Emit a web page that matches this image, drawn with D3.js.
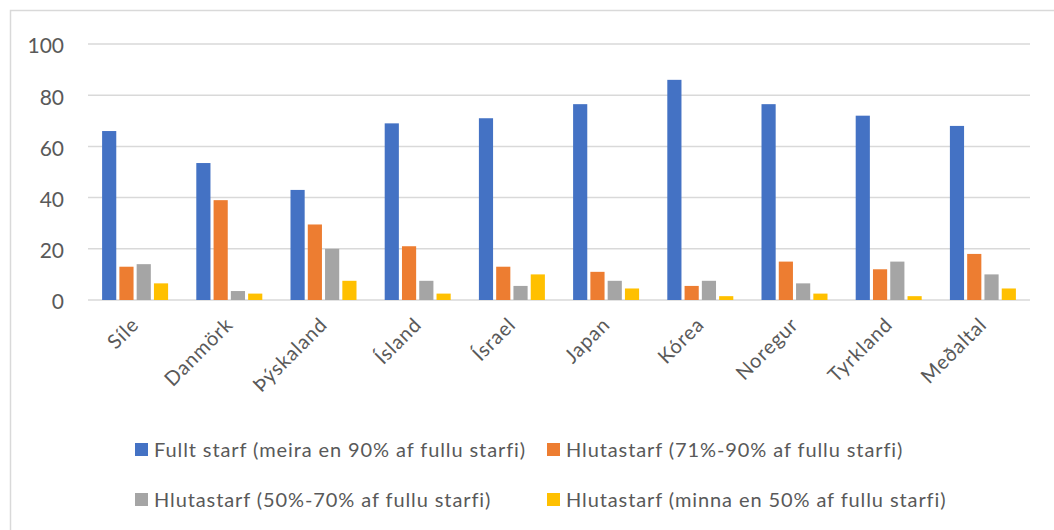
<!DOCTYPE html>
<html>
<head>
<meta charset="utf-8">
<script src="https://cdn.jsdelivr.net/npm/d3@7"></script>
<style>
  body { margin: 0; background: #fff; }
  text { font-family: Lato, "Noto Sans", sans-serif; fill: #595959; font-variant-ligatures: none; }
</style>
</head>
<body>
<svg id="chart" width="1054" height="530"></svg>
<script>
// categories and series
var countries = ["Síle", "Danmörk", "Þýskaland", "Ísland", "Ísrael", "Japan", "Kórea", "Noregur", "Tyrkland", "Meðaltal"];
var seriesNames = [
  "Fullt starf (meira en 90% af fullu starfi)",
  "Hlutastarf (71%-90% af fullu starfi)",
  "Hlutastarf (50%-70% af fullu starfi)",
  "Hlutastarf (minna en 50% af fullu starfi)"
];
var fullTime   = [66, 53.5, 43, 69, 71, 76.5, 86, 76.5, 72, 68];
var part71to90 = [13, 39, 29.5, 21, 13, 11, 5.5, 15, 12, 18];
var part50to70 = [14, 3.5, 20, 7.5, 5.5, 7.5, 7.5, 6.5, 15, 10];
var partUnder50 = [6.5, 2.5, 7.5, 2.5, 10, 4.5, 1.5, 2.5, 1.5, 4.5];
var yTicks = [0, 20, 40, 60, 80, 100];
var colors = ["#4472c4", "#ed7d31", "#a5a5a5", "#ffc000"];

var allSeries = [fullTime, part71to90, part50to70, partUnder50];

var svg = d3.select("#chart");

// outer frame
svg.append("rect")
  .attr("x", 10.5).attr("y", 10.5)
  .attr("width", 1060).attr("height", 540)
  .attr("fill", "none")
  .attr("stroke", "#d9d9d9")
  .attr("stroke-width", 1.5);

var plotLeft = 88, plotRight = 1030, plotTop = 44, plotBottom = 300;

var x = d3.scaleBand().domain(countries).range([plotLeft, plotRight]);
var xs = d3.scaleBand().domain(d3.range(4)).range([0, 66]).paddingInner(0.18);
var y = d3.scaleLinear().domain([0, 100]).range([plotBottom, plotTop]);

// gridlines
svg.append("g")
  .selectAll("line")
  .data(yTicks)
  .join("line")
  .attr("x1", plotLeft).attr("x2", plotRight)
  .attr("y1", d => y(d)).attr("y2", d => y(d))
  .attr("stroke", "#d9d9d9")
  .attr("stroke-width", 1.5);

// y labels
var yAxis = d3.axisLeft(y).tickValues(yTicks).tickSize(0).tickPadding(0);
var ga = svg.append("g").attr("transform", "translate(64,0)").call(yAxis);
ga.select(".domain").remove();
ga.selectAll("text")
  .attr("font-size", 21)
  .attr("fill", "#595959")
  .attr("dy", "0.42em")
  .style("font-family", "Lato, sans-serif");

// bars
var groups = svg.append("g")
  .selectAll("g")
  .data(countries)
  .join("g")
  .attr("transform", d => "translate(" + (x(d) + x.bandwidth() / 2 - 33) + ",0)");

groups.selectAll("rect")
  .data((d, i) => allSeries.map((s, k) => ({k: k, v: s[i]})))
  .join("rect")
  .attr("x", d => xs(d.k))
  .attr("width", xs.bandwidth())
  .attr("y", d => y(d.v))
  .attr("height", d => y(0) - y(d.v))
  .attr("fill", d => colors[d.k]);

// category labels
svg.append("g")
  .selectAll("text")
  .data(countries)
  .join("text")
  .attr("transform", d => "translate(" + (x(d) + x.bandwidth() / 2 + 5) + ",326) rotate(-45)")
  .attr("text-anchor", "end")
  .attr("font-size", 20)
  .attr("letter-spacing", 0.8)
  .text(d => d);

// legend
var legendPos = [[135, 450], [547, 450], [135, 500], [547, 500]];
var lg = svg.append("g")
  .selectAll("g")
  .data(seriesNames)
  .join("g")
  .attr("transform", (d, i) => "translate(" + legendPos[i][0] + "," + legendPos[i][1] + ")");
lg.append("rect").attr("x", 0).attr("y", -7).attr("width", 13).attr("height", 13)
  .attr("fill", (d, i) => colors[i]);
lg.append("text").attr("x", 19).attr("y", 7).attr("font-size", 20)
  .attr("letter-spacing", 0.9).text(d => d);
</script>
</body>
</html>
